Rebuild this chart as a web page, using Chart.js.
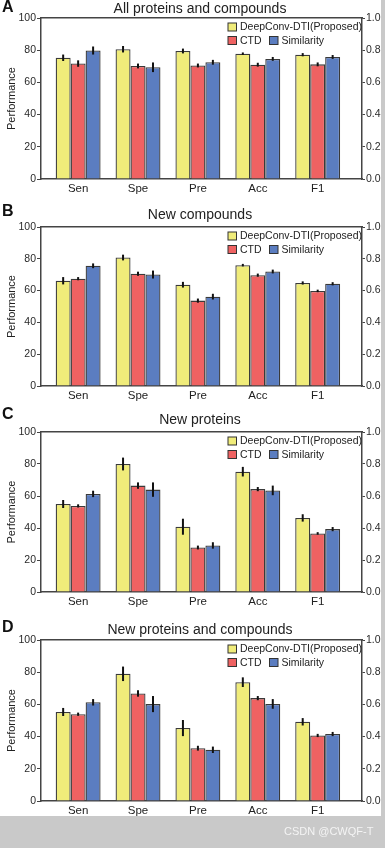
<!DOCTYPE html>
<html>
<head>
<meta charset="utf-8">
<script src="https://cdn.jsdelivr.net/npm/chart.js@4.4.0/dist/chart.umd.min.js"></script>
<style>
    body { margin: 0; width: 385px; height: 848px; background: #c9c9c9; overflow: hidden; position: relative; }
    #page { position: absolute; left: 0; top: 0; width: 381px; height: 816px; background: #fff; overflow: hidden; }
    .panel { position: absolute; left: 0; width: 381px; }
    .panel canvas { display: block; }
    #mark { position: absolute; left: 284px; top: 825px; font: 11px "Liberation Sans", Arial, sans-serif; color: #f4f4f4; }
</style>
</head>
<body>
<div id="page"></div>
<div id="mark">CSDN @CWQF-T</div>
<script>
// Categories and series
const categories = ['Sen', 'Spe', 'Pre', 'Acc', 'F1'];
const seriesNames = ['DeepConv-DTI(Proposed)', 'CTD', 'Similarity'];
const seriesColors = ['#f0ec7a', '#ef6262', '#5b7dc0'];
const panelLetters = ['A', 'B', 'C', 'D'];
const panelTitles = ['All proteins and compounds', 'New compounds', 'New proteins', 'New proteins and compounds'];
const leftTicks = [0, 20, 40, 60, 80, 100];
const rightTicks = [0, 0.2, 0.4, 0.6, 0.8, 1.0];

// A: All proteins and compounds
const deepA = [75.3, 80.6, 79.5, 77.8, 77.2];
const ctdA  = [71.7, 70.2, 70.5, 71.0, 71.2];
const simA  = [79.8, 69.4, 72.5, 74.6, 75.8];
const deepErrA = [2.0, 2.0, 1.5, 0.8, 1.0];
const ctdErrA  = [2.0, 1.5, 1.2, 1.2, 1.2];
const simErrA  = [2.5, 3.0, 1.5, 1.2, 1.2];

// B: New compounds
const deepB = [66.2, 80.8, 63.7, 76.0, 64.8];
const ctdB  = [67.5, 70.6, 53.7, 69.7, 59.8];
const simB  = [75.6, 70.1, 56.2, 72.0, 64.3];
const deepErrB = [2.3, 1.8, 1.8, 0.8, 1.0];
const ctdErrB  = [1.0, 1.3, 1.3, 1.0, 0.8];
const simErrB  = [1.5, 2.5, 1.8, 1.2, 1.0];

// C: New proteins
const deepC = [55.0, 80.0, 40.8, 75.2, 46.3];
const ctdC  = [53.8, 66.5, 27.8, 64.3, 36.6];
const simC  = [61.3, 64.0, 29.1, 63.5, 39.3];
const deepErrC = [2.5, 4.0, 5.0, 3.0, 2.3];
const ctdErrC  = [1.0, 2.0, 1.2, 1.3, 0.8];
const simErrC  = [2.0, 4.5, 2.0, 3.0, 1.3];

// D: New proteins and compounds
const deepD = [55.3, 79.0, 45.3, 73.8, 49.2];
const ctdD  = [53.9, 66.8, 32.8, 63.9, 40.7];
const simD  = [61.3, 60.2, 31.8, 60.3, 41.6];
const deepErrD = [2.5, 4.5, 5.0, 3.0, 2.3];
const ctdErrD  = [1.0, 2.0, 1.5, 1.3, 1.0];
const simErrD  = [2.0, 5.0, 2.0, 3.0, 1.3];

const panelValues = [[deepA, ctdA, simA], [deepB, ctdB, simB], [deepC, ctdC, simC], [deepD, ctdD, simD]];
const panelErrors = [[deepErrA, ctdErrA, simErrA], [deepErrB, ctdErrB, simErrB], [deepErrC, ctdErrC, simErrC], [deepErrD, ctdErrD, simErrD]];

// panel placement: canvas top, plot top padding, plot height, title / letter baselines (middle)
const layouts = [
    { top: 0,   pad: 18, plotH: 161, titleY: 9,  letterY: 8 },
    { top: 200, pad: 27, plotH: 159, titleY: 15, letterY: 12 },
    { top: 405, pad: 27, plotH: 160, titleY: 15, letterY: 10 },
    { top: 612, pad: 28, plotH: 161, titleY: 18, letterY: 16 }
];

const FONT = '"Liberation Sans", Arial, Helvetica, sans-serif';
Chart.defaults.font.family = FONT;
Chart.defaults.color = '#2a2a2a';
const AXIS = '#444';

// vertical error lines on top of each bar
const errorBars = {
    id: 'errorBars',
    afterDatasetsDraw(chart) {
        const ctx = chart.ctx;
        const y = chart.scales.y;
        ctx.save();
        ctx.strokeStyle = '#111';
        ctx.lineWidth = 2;
        chart.data.datasets.forEach((ds, di) => {
            chart.getDatasetMeta(di).data.forEach((bar, i) => {
                const v = ds.data[i].y, e = ds.errors[i];
                ctx.beginPath();
                ctx.moveTo(bar.x, y.getPixelForValue(v + e));
                ctx.lineTo(bar.x, y.getPixelForValue(v - e));
                ctx.stroke();
            });
        });
        ctx.restore();
    }
};

// letter, title and the in-plot legend
const decorations = {
    id: 'decorations',
    afterDraw(chart, args, opts) {
        const ctx = chart.ctx;
        const area = chart.chartArea;
        ctx.save();
        ctx.textBaseline = 'middle';
        ctx.fillStyle = '#111';
        ctx.font = 'bold 16px ' + FONT;
        ctx.textAlign = 'left';
        ctx.fillText(opts.letter, 2, opts.letterY);
        ctx.font = '14px ' + FONT;
        ctx.fillStyle = '#222';
        ctx.textAlign = 'center';
        ctx.fillText(opts.title, 200, opts.titleY);

        // legend
        ctx.font = '10.5px ' + FONT;
        ctx.textAlign = 'left';
        const ds = chart.data.datasets;
        const rows = [
            [{ i: 0, x: area.right - 134 }],
            [{ i: 1, x: area.right - 134 }, { i: 2, x: area.right - 92.5 }]
        ];
        const rowY = [area.top + 9, area.top + 22.5];
        rows.forEach((row, r) => {
            row.forEach(item => {
                ctx.fillStyle = ds[item.i].backgroundColor;
                ctx.fillRect(item.x, rowY[r] - 4, 8.5, 8);
                ctx.strokeStyle = '#333';
                ctx.lineWidth = 1;
                ctx.strokeRect(item.x, rowY[r] - 4, 8.5, 8);
                ctx.fillStyle = '#222';
                ctx.fillText(ds[item.i].label, item.x + 12, rowY[r] + 0.5);
            });
        });
        ctx.restore();
    }
};

const page = document.getElementById('page');

panelValues.forEach((values, p) => {
    const L = layouts[p];
    const h = L.pad + L.plotH + 22;
    const wrap = document.createElement('div');
    wrap.className = 'panel';
    wrap.style.top = L.top + 'px';
    wrap.style.height = h + 'px';
    const canvas = document.createElement('canvas');
    wrap.appendChild(canvas);
    page.appendChild(wrap);

    new Chart(canvas, {
        type: 'bar',
        data: {
            datasets: seriesNames.map((name, s) => ({
                label: name,
                data: values[s].map((v, i) => ({ x: i, y: v })),
                errors: panelErrors[p][s],
                backgroundColor: seriesColors[s],
                borderColor: '#3a3a3a',
                borderWidth: 1.3,
                categoryPercentage: 0.75,
                barPercentage: 1
            }))
        },
        options: {
            responsive: true,
            maintainAspectRatio: false,
            animation: false,
            devicePixelRatio: 1,
            layout: { padding: { top: L.pad, left: 0, right: 0, bottom: 0 } },
            plugins: {
                legend: { display: false },
                tooltip: { enabled: false },
                decorations: { letter: panelLetters[p], title: panelTitles[p], titleY: L.titleY, letterY: L.letterY }
            },
            scales: {
                x: {
                    type: 'linear',
                    offset: false,
                    min: -0.62,
                    max: 4.74,
                    afterBuildTicks: scale => { scale.ticks = categories.map((c, i) => ({ value: i })); },
                    afterFit: scale => { scale.height = 22; },
                    ticks: {
                        callback: v => categories[v],
                        font: { size: 11.5 },
                        color: '#222',
                        padding: 3,
                        maxRotation: 0,
                        autoSkip: false
                    },
                    grid: { display: true, offset: false, drawOnChartArea: false, drawTicks: false },
                    border: { color: AXIS, width: 1.5 }
                },
                xTop: {
                    type: 'linear',
                    position: 'top',
                    offset: false,
                    min: -0.62,
                    max: 4.74,
                    afterFit: scale => { scale.height = 0; },
                    ticks: { display: false },
                    grid: { display: false, offset: false },
                    border: { color: AXIS, width: 1.5 }
                },
                y: {
                    position: 'left',
                    min: 0,
                    max: 100,
                    afterBuildTicks: scale => { scale.ticks = leftTicks.map(v => ({ value: v })); },
                    afterFit: scale => { scale.width = 41; },
                    ticks: { font: { size: 10.5 }, color: '#2a2a2a', padding: 1 },
                    grid: { drawOnChartArea: false, tickLength: 4, color: AXIS, tickWidth: 1 },
                    border: { color: AXIS, width: 1.5 },
                    title: { display: true, text: 'Performance', font: { size: 11 }, color: '#222', padding: { top: 5, bottom: 0 } }
                },
                y2: {
                    position: 'right',
                    min: 0,
                    max: 1,
                    afterBuildTicks: scale => { scale.ticks = rightTicks.map(v => ({ value: v })); },
                    afterFit: scale => { scale.width = 19; },
                    ticks: { font: { size: 10.5 }, color: '#2a2a2a', padding: 1, callback: v => v.toFixed(1) },
                    grid: { drawOnChartArea: false, tickLength: 3, color: AXIS, tickWidth: 1 },
                    border: { color: AXIS, width: 1.5 }
                }
            }
        },
        plugins: [errorBars, decorations]
    });
});
</script>
</body>
</html>
